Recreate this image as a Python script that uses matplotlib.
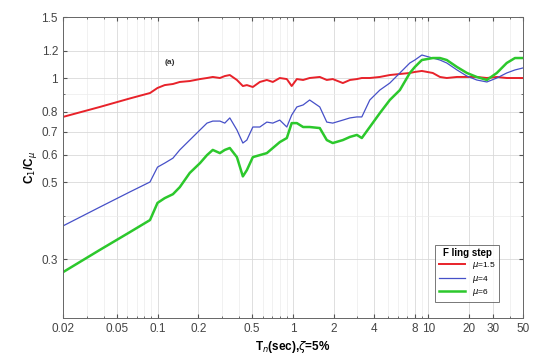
import matplotlib
matplotlib.use('Agg')
import matplotlib.pyplot as plt
from matplotlib.ticker import LogLocator, NullFormatter

plt.rcParams['font.family'] = ['Liberation Sans', 'DejaVu Sans']

# periods (sec)
period = [0.02, 0.0375, 0.0625, 0.088, 0.1, 0.113, 0.13, 0.146, 0.173, 0.206, 0.232,
          0.256, 0.289, 0.314, 0.342, 0.386, 0.427, 0.457, 0.506, 0.57, 0.642, 0.711,
          0.8, 0.902, 0.98, 1.07, 1.19, 1.33, 1.58, 1.78, 1.97, 2.34, 2.64, 2.97, 3.23,
          3.7, 4.39, 5.2, 6.17, 7.31, 7.96, 8.97, 10.8, 12.2, 13.7, 16.3, 19.3, 22.8,
          27.1, 32.1, 38.0, 43.7, 50.0]

# mu = 1.5
c_mu15 = [0.772, 0.825, 0.873, 0.905, 0.936, 0.954, 0.961, 0.974, 0.98, 0.993, 1.0,
          1.007, 1.0, 1.013, 1.02, 0.987, 0.948, 0.954, 0.942, 0.974, 0.987, 0.974,
          1.0, 0.993, 0.948, 0.993, 0.987, 1.0, 1.007, 0.987, 0.993, 0.967, 0.987,
          0.993, 1.0, 1.0, 1.007, 1.02, 1.027, 1.034, 1.041, 1.048, 1.034, 1.007, 1.0,
          1.007, 1.007, 1.007, 1.0, 1.007, 1.0, 1.0, 1.0]

# mu = 4
c_mu4 = [0.374, 0.424, 0.469, 0.501, 0.553, 0.568, 0.587, 0.62, 0.662, 0.708, 0.741,
         0.751, 0.751, 0.741, 0.767, 0.708, 0.649, 0.662, 0.722, 0.722, 0.746, 0.741,
         0.756, 0.722, 0.782, 0.825, 0.836, 0.864, 0.825, 0.746, 0.741, 0.756, 0.767,
         0.772, 0.772, 0.864, 0.923, 0.967, 1.034, 1.105, 1.127, 1.165, 1.142, 1.127,
         1.105, 1.055, 1.013, 0.987, 0.974, 1.0, 1.034, 1.055, 1.069]

# mu = 6
c_mu6 = [0.275, 0.319, 0.359, 0.389, 0.436, 0.45, 0.462, 0.484, 0.532, 0.568, 0.599,
         0.62, 0.607, 0.62, 0.628, 0.591, 0.52, 0.542, 0.591, 0.599, 0.607, 0.628,
         0.653, 0.671, 0.741, 0.741, 0.722, 0.722, 0.717, 0.662, 0.649, 0.662, 0.676,
         0.685, 0.671, 0.722, 0.792, 0.864, 0.923, 1.034, 1.076, 1.127, 1.142, 1.142,
         1.127, 1.076, 1.034, 1.007, 0.987, 1.034, 1.105, 1.142, 1.142]

xticks = [0.02, 0.05, 0.1, 0.2, 0.5, 1, 2, 4, 8, 10, 20, 30, 50]
xtick_labels = ['0.02', '0.05', '0.1', '0.2', '0.5', '1', '2', '4', '8', '10', '20', '30', '50']
yticks = [0.3, 0.5, 0.6, 0.7, 0.8, 1, 1.2, 1.5]
ytick_labels = ['0.3', '0.5', '0.6', '0.7', '0.8', '1', '1.2', '1.5']

fig = plt.figure(figsize=(5.33, 3.58), dpi=100)
ax = fig.add_axes([0.118, 0.112, 0.863, 0.8405])

ax.plot(period, c_mu15, color='#e8222a', lw=1.4, label='$\\mu$=1.5')
ax.plot(period, c_mu4, color='#4650c8', lw=0.9, label='$\\mu$=4')
ax.plot(period, c_mu6, color='#2cc82c', lw=1.8, label='$\\mu$=6')

ax.set_xscale('log')
ax.set_yscale('log')
ax.set_xlim(0.02, 50)
ax.set_ylim(0.203, 1.5)

ax.xaxis.set_minor_locator(LogLocator(base=10, subs=range(1, 10), numticks=20))
ax.yaxis.set_minor_locator(LogLocator(base=10, subs=range(1, 10), numticks=20))
ax.xaxis.set_minor_formatter(NullFormatter())
ax.yaxis.set_minor_formatter(NullFormatter())
ax.set_xticks(xticks)
ax.set_xticklabels(xtick_labels)
ax.set_yticks(yticks)
ax.set_yticklabels(ytick_labels)

ax.grid(True, which='major', color='#d9d9d9', lw=0.6)
ax.grid(True, which='minor', color='#ececec', lw=0.5)
ax.tick_params(which='both', direction='in', top=True, right=True, colors='#555555',
               labelsize=8.5, labelcolor='#444444')
ax.tick_params(which='major', length=3)
ax.tick_params(which='minor', length=1.5)
for s in ax.spines.values():
    s.set_color('#666666')
    s.set_linewidth(0.7)

ax.set_xlabel('T$_n$(sec),$\\zeta$=5%', fontsize=8.5, fontweight='bold', labelpad=3)
ax.set_ylabel('C$_1$/C$_\\mu$', fontsize=8.5, fontweight='bold', labelpad=2)

ax.text(0.123, 1.11, '(a)', fontsize=6, fontweight='bold', ha='center', va='center',
        color='#333333')

leg = ax.legend(title='F ling step', loc='lower right', bbox_to_anchor=(0.957, 0.04),
                fontsize=6, title_fontproperties={'weight': 'bold', 'size': 7},
                frameon=True, fancybox=False, edgecolor='#555555', handlelength=3.2,
                borderpad=0.4, labelspacing=0.3)
leg.get_frame().set_linewidth(0.7)

fig.savefig('out.png', dpi=100)
